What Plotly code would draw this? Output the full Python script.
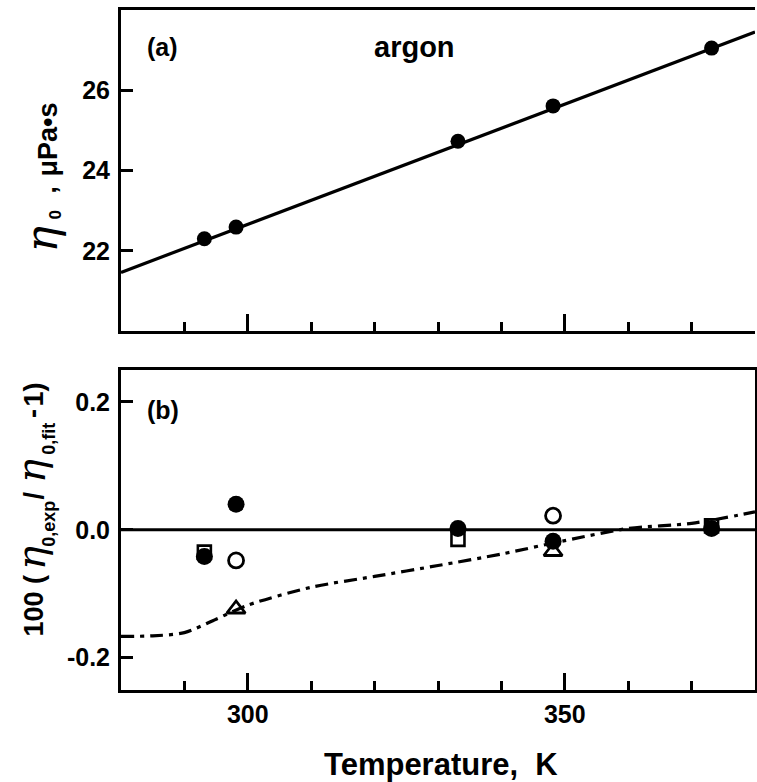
import plotly.graph_objects as go

W, H = 757, 782
FONT = "Liberation Sans"
SERIF = "DejaVu Serif"

# (a) zero-density viscosity of argon, measured points and fitted curve
t_exp = [293.15, 298.15, 333.15, 348.15, 373.15]
eta_exp = [22.30, 22.59, 24.73, 25.61, 27.05]
t_fit = [280, 300, 320, 340, 360, 380]
eta_fit = [21.46, 22.66, 23.87, 25.07, 26.26, 27.45]

# (b) percentage deviations from the fit, by data set
t_dev_a = [293.15, 298.15, 333.15, 348.15, 373.15]
dev_a = [-0.042, 0.040, 0.002, -0.018, 0.002]
t_dev_b = [298.15, 348.15]
dev_b = [-0.048, 0.022]
t_dev_c = [293.15, 333.15, 373.15]
dev_c = [-0.035, -0.015, 0.006]
t_dev_d = [298.15, 348.15]
dev_d = [-0.124, -0.034]
t_corr = [280, 285, 290, 295, 300, 310, 320, 330, 340, 350, 360, 370, 380]
dev_corr = [-0.167, -0.166, -0.161, -0.140, -0.118, -0.090, -0.073, -0.056,
            -0.038, -0.017, 0.002, 0.010, 0.028]

x_range = [280, 380]
x_major = [300, 350]
eta_ticks = [22, 24, 26]
dev_ticks = [-0.2, 0.0, 0.2]


def px_x(p):
    return p / W


def px_y(p):
    return 1 - p / H


fig = go.Figure()

# panel (a)
fig.add_trace(go.Scatter(x=t_fit, y=eta_fit, mode="lines",
                         line=dict(color="black", width=3.2),
                         xaxis="x", yaxis="y", showlegend=False))
fig.add_trace(go.Scatter(x=t_exp, y=eta_exp, mode="markers",
                         marker=dict(symbol="circle", size=15, color="black"),
                         xaxis="x", yaxis="y", showlegend=False))

# panel (b)
fig.add_trace(go.Scatter(x=x_range, y=[0, 0], mode="lines",
                         line=dict(color="black", width=3),
                         xaxis="x2", yaxis="y2", showlegend=False))
fig.add_trace(go.Scatter(x=t_corr, y=dev_corr, mode="lines",
                         line=dict(color="black", width=3.2, shape="spline",
                                   smoothing=0.8, dash="13px,6px,4px,6px"),
                         xaxis="x2", yaxis="y2", showlegend=False))
fig.add_trace(go.Scatter(x=t_dev_c, y=dev_c, mode="markers",
                         marker=dict(symbol="square-open", size=13, color="black",
                                     line=dict(width=2.6, color="black")),
                         xaxis="x2", yaxis="y2", showlegend=False))
fig.add_trace(go.Scatter(x=t_dev_a, y=dev_a, mode="markers",
                         marker=dict(symbol="circle", size=17, color="black"),
                         xaxis="x2", yaxis="y2", showlegend=False))
fig.add_trace(go.Scatter(x=t_dev_b, y=dev_b, mode="markers",
                         marker=dict(symbol="circle-open", size=15, color="black",
                                     line=dict(width=2.8, color="black")),
                         xaxis="x2", yaxis="y2", showlegend=False))
fig.add_trace(go.Scatter(x=t_dev_d, y=dev_d, mode="markers",
                         marker=dict(symbol="triangle-up-open", size=16, color="black",
                                     line=dict(width=2.8, color="black")),
                         xaxis="x2", yaxis="y2", showlegend=False))

tickfont = dict(family=FONT, size=25, color="black", weight="bold")
x_dom = [px_x(121), px_x(755)]

common_x = dict(range=x_range, tickmode="array", tickvals=x_major,
                ticks="inside", ticklen=17, tickwidth=3, tickcolor="black",
                minor=dict(dtick=10, tick0=280, ticks="inside", ticklen=9,
                           tickwidth=3, tickcolor="black"),
                showline=True, linewidth=3, linecolor="black", mirror=True,
                showgrid=False, zeroline=False, tickfont=tickfont,
                domain=x_dom)

fig.update_layout(
    width=W, height=H,
    margin=dict(l=0, r=0, t=0, b=0),
    paper_bgcolor="white", plot_bgcolor="white",
    xaxis=dict(common_x, anchor="y", showticklabels=False),
    yaxis=dict(range=[20, 28], domain=[px_y(331), px_y(10)], anchor="x",
               tickmode="array", tickvals=eta_ticks,
               ticks="inside", ticklen=12, tickwidth=3, tickcolor="black",
               showline=True, linewidth=3, linecolor="black", mirror=False,
               showgrid=False, zeroline=False, tickfont=tickfont,
               ticklabelstandoff=3),
    xaxis2=dict(common_x, anchor="y2", ticklabelstandoff=0),
    yaxis2=dict(range=[-0.25, 0.25], domain=[px_y(689.5), px_y(370)], anchor="x2",
                tickmode="array", tickvals=dev_ticks, ticktext=["-0.2", "0.0", "0.2"],
                ticks="inside", ticklen=12, tickwidth=3, tickcolor="black",
                showline=True, linewidth=3, linecolor="black", mirror=True,
                showgrid=False, zeroline=False, tickfont=tickfont,
                ticklabelstandoff=3),
)

bold = dict(family=FONT, color="black", weight="bold")
eta_font = dict(family=SERIF, color="black", style="italic", weight="normal")

annotations = [
    dict(text="(a)", x=px_x(145), y=px_y(47), xanchor="left", yanchor="middle",
         font=dict(bold, size=25)),
    dict(text="argon", x=px_x(414), y=px_y(47), xanchor="center", yanchor="middle",
         font=dict(bold, size=29)),
    dict(text="(b)", x=px_x(145), y=px_y(410), xanchor="left", yanchor="middle",
         font=dict(bold, size=25)),
    dict(text="Temperature,  K", x=px_x(441), y=px_y(764), xanchor="center",
         yanchor="middle", font=dict(bold, size=31)),
]


def vtext(text, baseline_x, start_y, font, size):
    """Vertical (bottom-to-top) text piece: baseline at baseline_x, starting at start_y."""
    annotations.append(dict(text=text, x=px_x(baseline_x - 0.35 * size),
                            y=px_y(start_y), xanchor="center", yanchor="bottom",
                            textangle=-90, borderpad=0,
                            font=dict(font, size=size)))


# y title of panel (a): eta_0 ,  uPa*s
vtext("η", 57, 254, eta_font, 44)
vtext("0", 61, 221, bold, 17)
vtext(",", 57, 194, bold, 26)
vtext("μPa•s", 57, 178, bold, 27)

# y title of panel (b): 100 (eta_0,exp / eta_0,fit - 1)
vtext("100 (", 43, 638, bold, 27)
vtext("η", 45, 571, eta_font, 40)
vtext("0,exp", 55, 548, bold, 18)
vtext("/", 43, 501, bold, 27)
vtext("η", 45, 484, eta_font, 40)
vtext("0,fit", 55, 456, bold, 18)
vtext("-", 43, 419, bold, 27)
vtext("1)", 43, 408, bold, 27)

for a in annotations:
    a.update(xref="paper", yref="paper", showarrow=False)
fig.update_layout(annotations=annotations)

fig.write_html("out.html")
